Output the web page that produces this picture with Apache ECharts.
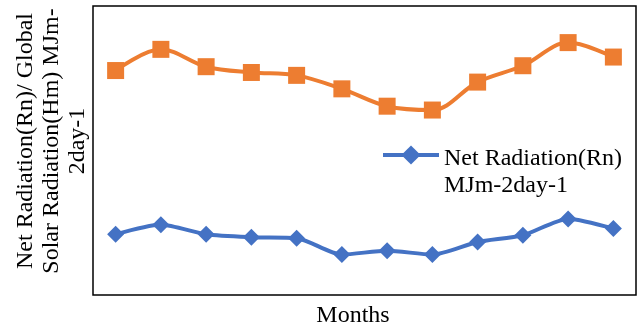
<!DOCTYPE html>
<html>
<head>
<meta charset="utf-8">
<script src="https://cdn.jsdelivr.net/npm/echarts@6/dist/echarts.min.js"></script>
<style>
  html, body { margin: 0; padding: 0; background: #fff; }
  #chart { width: 637px; height: 329px; }
</style>
</head>
<body>
<div id="chart"></div>
<script>
// Monthly radiation (MJ m-2 day-1), January to December
const months = ['Jan', 'Feb', 'Mar', 'Apr', 'May', 'Jun', 'Jul', 'Aug', 'Sep', 'Oct', 'Nov', 'Dec'];
const globalSolarHm = [23.3, 25.5, 23.7, 23.1, 22.8, 21.4, 19.6, 19.2, 22.1, 23.8, 26.2, 24.7];
const netRadiationRn = [6.3, 7.3, 6.3, 6.0, 5.9, 4.2, 4.6, 4.2, 5.5, 6.2, 7.9, 6.9];

const yTitle = 'Net Radiation(Rn)/ Global\nSolar Radiation(Hm) MJm-\n2day-1';
const xTitle = 'Months';
const rnName = 'Net Radiation(Rn) MJm-2day-1';

const serif = '"Liberation Serif", "Times New Roman", serif';

const chart = echarts.init(document.getElementById('chart'), null, { renderer: 'canvas' });
chart.setOption({
  animation: false,
  grid: {
    left: 93, right: 1, top: 6, bottom: 34,
    show: true, borderColor: '#000', borderWidth: 1.5, backgroundColor: 'transparent'
  },
  legend: {
    data: [rnName],
    left: 381, top: 111,
    padding: 0,
    itemWidth: 56, itemHeight: 24, itemGap: 0,
    lineStyle: { width: 4 },
    // leading blank line lowers the label so its first line sits beside the icon
    formatter: () => '\n{a|Net Radiation(Rn)}\n{a|MJm-2day-1}',
    textStyle: {
      fontFamily: serif, fontSize: 24, color: '#000', lineHeight: 34,
      rich: { a: { fontFamily: serif, fontSize: 24, color: '#000', lineHeight: 27 } }
    }
  },
  xAxis: {
    type: 'category',
    data: months,
    boundaryGap: true,
    axisLine: { show: false },
    axisTick: { show: false },
    axisLabel: { show: false }
  },
  yAxis: {
    type: 'value',
    min: 0, max: 30,
    axisLine: { show: false },
    axisTick: { show: false },
    axisLabel: { show: false },
    splitLine: { show: false }
  },
  graphic: [
    {
      type: 'text',
      x: 52, y: 141,
      rotation: Math.PI / 2,
      style: {
        text: yTitle,
        fontFamily: serif, fontSize: 24, lineHeight: 26,
        fill: '#000', align: 'center', verticalAlign: 'middle'
      }
    },
    {
      type: 'text',
      x: 353, y: 316,
      style: {
        text: xTitle,
        fontFamily: serif, fontSize: 24,
        fill: '#000', align: 'center', verticalAlign: 'middle'
      }
    }
  ],
  series: [
    {
      name: 'Global Solar Radiation(Hm)',
      type: 'line',
      data: globalSolarHm,
      smooth: 0.35,
      symbol: 'rect',
      symbolSize: 17,
      lineStyle: { color: '#ED7D31', width: 4 },
      itemStyle: { color: '#ED7D31' }
    },
    {
      name: rnName,
      type: 'line',
      data: netRadiationRn,
      smooth: 0.25,
      symbol: 'diamond',
      symbolSize: 17,
      lineStyle: { color: '#4472C4', width: 4 },
      itemStyle: { color: '#4472C4' }
    }
  ]
});
</script>
</body>
</html>
